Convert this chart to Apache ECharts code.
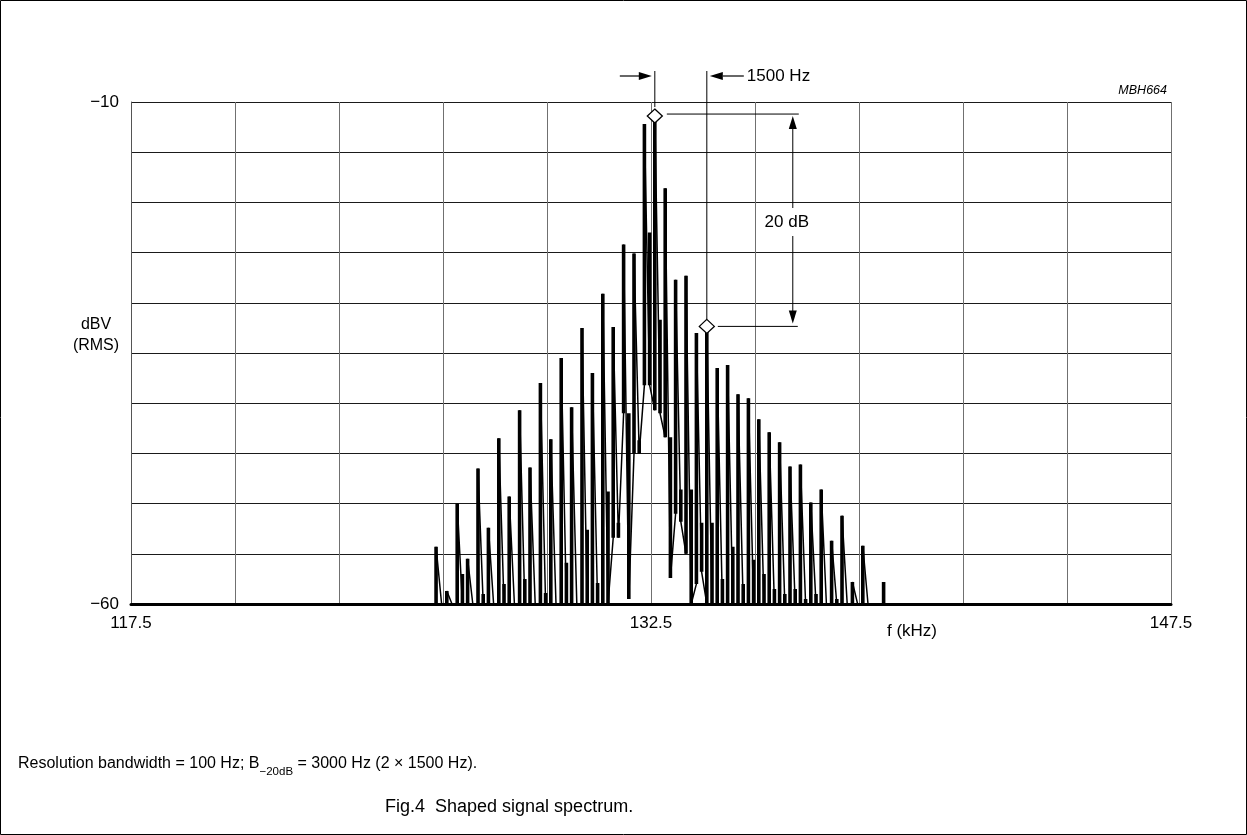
<!DOCTYPE html>
<html><head><meta charset="utf-8">
<script src="https://cdn.jsdelivr.net/npm/echarts@6/dist/echarts.min.js"></script>
<style>html,body{margin:0;padding:0;background:#fff}#c{width:1247px;height:835px}</style>
</head><body><div id="c"></div>
<script>
// ---- axes ----
const F_MIN = 117.5, F_MAX = 147.5;
const DB_MIN = -60, DB_MAX = -10;
const xTickLabels = [117.5, 132.5, 147.5];
const yTickLabels = [-10, -60];

// ---- spectral lines (kHz) and their trace levels (dBV) ----
const lineFreq = [126.30, 126.61, 126.91, 127.21, 127.51, 127.81, 128.11, 128.41, 128.71, 129.01,
  129.31, 129.61, 129.91, 130.21, 130.51, 130.81, 131.11, 131.41, 131.71, 132.01,
  132.31, 132.61, 132.91, 133.21, 133.51, 133.81, 134.11, 134.41, 134.71, 135.01,
  135.31, 135.61, 135.91, 136.21, 136.51, 136.81, 137.11, 137.41, 137.71, 138.01,
  138.31, 138.61, 138.91, 139.21];
const linePeak = [-54.3, -58.7, -50.0, -55.5, -46.5, -52.4, -43.5, -49.3, -40.7, -46.4,
  -38.0, -43.6, -35.5, -40.4, -32.5, -37.0, -29.1, -32.4, -24.2, -25.1,
  -12.2, -11.1, -18.6, -27.7, -27.3, -33.0, -32.3, -36.5, -36.2, -39.1,
  -39.5, -41.6, -42.9, -43.9, -46.3, -46.1, -49.9, -48.6, -53.7, -51.2,
  -57.8, -54.2, -60.0, -57.8];
const lineLow = [-60, -60, -60, -60, -60, -60, -60, -60, -60, -60,
  -60, -60, -60, -60, -60, -60, -60, -53.4, -41.0, -45.0,
  -38.2, -40.7, -43.4, -51.0, -55.0, -58.0, -60, -60, -60, -60,
  -60, -60, -60, -60, -60, -60, -60, -60, -60, -60,
  -60, -60, -60, -60];

// ---- trace points between adjacent lines ----
const midFreq = [126.46, 126.76, 127.06, 127.36, 127.66, 127.96, 128.26, 128.56, 128.86, 129.16,
  129.46, 129.76, 130.06, 130.36, 130.66, 130.96, 131.26, 131.56, 131.86, 132.16,
  132.46, 132.76, 133.06, 133.36, 133.66, 133.96, 134.26, 134.56, 134.86, 135.16,
  135.46, 135.76, 136.06, 136.36, 136.66, 136.96, 137.26, 137.56, 137.86, 138.16,
  138.46, 138.76, 139.06];
const midHigh = [-60, -60, -57.0, -60, -59.0, -60, -58.0, -60, -57.5, -60,
  -58.9, -60, -55.9, -60, -52.6, -57.9, -48.8, -51.9, -41.0, -43.7,
  -23.0, -31.7, -43.4, -48.6, -48.6, -51.9, -51.9, -57.5, -54.3, -58.0,
  -55.6, -57.0, -58.5, -59.0, -58.5, -59.5, -59.0, -60, -59.5, -60,
  -60, -60, -60];
const midLow = [-60, -60, -60, -60, -60, -60, -60, -60, -60, -60,
  -60, -60, -60, -60, -60, -60, -60, -53.4, -59.5, -45.0,
  -38.2, -41.0, -57.4, -51.8, -60, -56.8, -60, -60, -60, -60,
  -60, -60, -60, -60, -60, -60, -60, -60, -60, -60,
  -60, -60, -60];

// ---- markers ----
const markerFreq = [132.61, 134.11];
const markerLevel = [-11.2, -32.35];
const arrowFreq = 136.59;

const X = f => f - F_MIN;   // axis runs in kHz offset from F_MIN so grid starts at 117.5

// thin trace: peaks joined through the valleys
const thin = [];
for (let i = 0; i < lineFreq.length; i++) {
  thin.push([X(lineFreq[i]), lineLow[i]]);
  thin.push([X(lineFreq[i]), linePeak[i]]);
  if (i < midFreq.length) thin.push([X(midFreq[i]), midLow[i]]);
}
// thick vertical strokes
const thick = [];
for (let i = 0; i < lineFreq.length; i++) {
  if (linePeak[i] > lineLow[i]) {
    thick.push([X(lineFreq[i]), lineLow[i]], [X(lineFreq[i]), linePeak[i]], [X(lineFreq[i]), '-']);
  }
}
for (let j = 0; j < midFreq.length; j++) {
  if (midHigh[j] > midLow[j]) {
    thick.push([X(midFreq[j]), midLow[j]], [X(midFreq[j]), midHigh[j]], [X(midFreq[j]), '-']);
  }
}

const FONT = '"Liberation Sans", Arial, Helvetica, sans-serif';
const chart = echarts.init(document.getElementById('c'), null, {renderer: 'canvas'});

chart.setOption({
  animation: false,
  backgroundColor: '#fff',
  textStyle: {fontFamily: FONT, color: '#000'},
  grid: {left: 131, right: 76, top: 102, bottom: 231, outerBoundsMode: 'none'},
  xAxis: {
    type: 'value', min: X(F_MIN), max: X(F_MAX), interval: 3,
    axisLine: {show: true, onZero: false, lineStyle: {color: '#000', width: 3}},
    axisTick: {show: false},
    axisLabel: {
      fontSize: 17, color: '#000', fontFamily: FONT, margin: 11, showMinLabel: true, showMaxLabel: true,
      formatter: v => {
        const f = Math.round((v + F_MIN) * 10) / 10;
        return xTickLabels.includes(f) ? f.toFixed(1) : '';
      }
    },
    splitLine: {show: true, lineStyle: {color: '#707070', width: 1}}
  },
  yAxis: {
    type: 'value', min: DB_MIN, max: DB_MAX, interval: 5,
    axisLine: {show: true, lineStyle: {color: '#555', width: 1}},
    axisTick: {show: false},
    axisLabel: {
      fontSize: 17, color: '#000', fontFamily: FONT, margin: 12,
      formatter: v => yTickLabels.includes(v) ? '\u2212' + Math.abs(v) : ''
    },
    splitLine: {show: true, lineStyle: {color: '#1a1a1a', width: 1}}
  },
  series: [
    {type: 'line', data: thin, showSymbol: false, symbol: 'none', z: 3,
     lineStyle: {color: '#000', width: 1.5}},
    {type: 'line', data: thick, showSymbol: false, symbol: 'none', connectNulls: false, z: 4,
     lineStyle: {color: '#000', width: 3.6, cap: 'butt'}}
  ]
});

// ---- annotations positioned from data values ----
const px = (f, d) => chart.convertToPixel({gridIndex: 0}, [X(f), d]);
const [m1x, m1y] = px(markerFreq[0], markerLevel[0]);
const [m2x, m2y] = px(markerFreq[1], markerLevel[1]);
const ax = px(arrowFreq, DB_MAX)[0];
const topY = px(F_MIN, DB_MAX)[1];
const botY = px(F_MIN, DB_MIN)[1];
const rightX = px(F_MAX, DB_MIN)[0];
const rowY = topY - 26;
const thinLine = (x1, y1, x2, y2, w) => ({type: 'line', z: 50, shape: {x1, y1, x2, y2},
  style: {stroke: '#000', lineWidth: w || 1}});
const tri = pts => ({type: 'polygon', z: 51, shape: {points: pts}, style: {fill: '#000'}});
const diamond = (x, y) => ({type: 'polygon', z: 52, shape: {points: [[x, y - 7], [x + 7.5, y], [x, y + 7], [x - 7.5, y]]},
  style: {fill: '#fff', stroke: '#000', lineWidth: 1.3}});
const txt = (x, y, s, opt) => Object.assign({type: 'text', z: 60, x, y,
  style: Object.assign({text: s, fill: '#000', font: '17px ' + FONT, textAlign: 'left', textVerticalAlign: 'middle'}, opt || {})});

const g = [
  // page frame
  {type: 'rect', z: 0, shape: {x: 0.5, y: 0.5, width: 1246, height: 834}, style: {fill: 'none', stroke: '#000', lineWidth: 1}},
  // 1500 Hz marker lines and arrows
  thinLine(m1x, topY - 31, m1x, m1y - 7),
  thinLine(m2x, topY - 31, m2x, m2y - 7),
  thinLine(m1x - 35, rowY, m1x - 12, rowY, 1.2),
  tri([[m1x - 3, rowY], [m1x - 16, rowY - 4], [m1x - 16, rowY + 4]]),
  thinLine(m2x + 16, rowY, m2x + 37, rowY, 1.2),
  tri([[m2x + 3, rowY], [m2x + 16, rowY - 4], [m2x + 16, rowY + 4]]),
  txt(m2x + 40, rowY, '1500 Hz'),
  // 20 dB dimension
  thinLine(m1x + 12, m1y, ax + 6, m1y),
  thinLine(m2x + 11, m2y, ax + 5, m2y),
  tri([[ax, m1y + 2], [ax - 4, m1y + 15], [ax + 4, m1y + 15]]),
  thinLine(ax, m1y + 14, ax, 208),
  thinLine(ax, 236, ax, m2y - 14),
  tri([[ax, m2y - 3], [ax - 4, m2y - 16], [ax + 4, m2y - 16]]),
  txt(ax - 6, 222, '20 dB', {textAlign: 'center'}),
  diamond(m1x, m1y + 2),
  diamond(m2x, m2y),
  // labels
  txt(rightX - 4, topY - 11, 'MBH664', {textAlign: 'right', font: 'italic 12.5px ' + FONT}),
  txt(96, 325, 'dBV', {textAlign: 'center', font: '16px ' + FONT}),
  txt(96, 346, '(RMS)', {textAlign: 'center', font: '16px ' + FONT}),
  txt(912, botY + 27, 'f (kHz)', {textAlign: 'center'}),
  {type: 'text', z: 60, x: 18, y: 767, style: {
    text: '{a|Resolution bandwidth = 100 Hz; B}{s|\u221220dB}{a| = 3000 Hz (2 \u00d7 1500 Hz).}',
    textVerticalAlign: 'middle', fill: '#000',
    rich: {
      a: {fontSize: 16, fontFamily: FONT, color: '#000', lineHeight: 22, verticalAlign: 'top'},
      s: {fontSize: 11.5, fontFamily: FONT, color: '#000', lineHeight: 22, verticalAlign: 'bottom'}
    }
  }},
  txt(385, 807, 'Fig.4  Shaped signal spectrum.', {font: '18px ' + FONT})
];
chart.setOption({graphic: g});
</script>
</body></html>
